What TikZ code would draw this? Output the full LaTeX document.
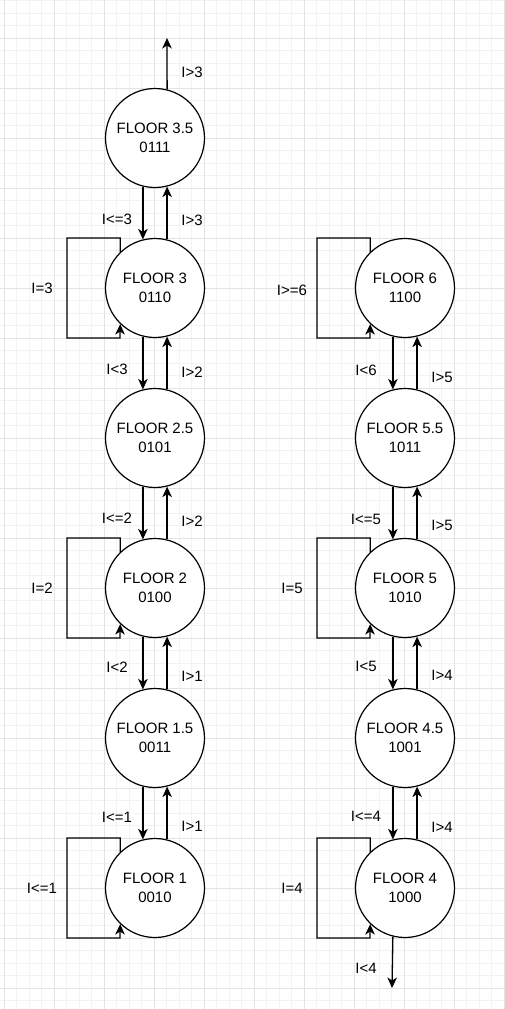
\documentclass[tikz,border=0pt]{standalone}
\usepackage{fontspec}
\setmainfont{Liberation Sans}
\usetikzlibrary{arrows.meta,calc}
\begin{document}
\begin{tikzpicture}[x=1pt,y=-1pt,
  minorgrid/.style={draw=black!5,line width=0.8pt},
  majorgrid/.style={draw=black!11,line width=0.8pt},
  floor/.style={circle,draw=black,line width=1.2pt,fill=white,minimum size=99pt,inner sep=0pt,align=center,font=\fontsize{15}{18.75}\selectfont},
  lbl/.style={inner sep=0pt,font=\fontsize{15}{18}\selectfont},
  arr/.style={draw=black,line width=1.3pt,-{Stealth[length=10.5pt,width=9.5pt,inset=3pt]}},
  loopline/.style={draw=black,line width=1.3pt,-{Stealth[length=10.5pt,width=9.5pt,inset=3pt]}}
]
\useasboundingbox (0,0) rectangle (505,1009);
\fill[white] (0,0) rectangle (505,1009);
% grid
\foreach \k in {0,...,40} { \draw[minorgrid] ({4.3+12.5*\k},0) -- ({4.3+12.5*\k},1009); }
\foreach \k in {0,...,80} { \draw[minorgrid] (0,{0.8+12.5*\k}) -- (505,{0.8+12.5*\k}); }
\foreach \k in {0,...,10} { \draw[majorgrid] ({4.3+50*\k},0) -- ({4.3+50*\k},1009); }
\foreach \k in {0,...,19} { \draw[majorgrid] (0,{38.3+50*\k}) -- (505,{38.3+50*\k}); }

% floors
\node[floor] (f35) at (155,138) {FLOOR 3.5\\0111};
\node[floor] (f3)  at (155,288) {FLOOR 3\\0110};
\node[floor] (f25) at (155,438) {FLOOR 2.5\\0101};
\node[floor] (f2)  at (155,588) {FLOOR 2\\0100};
\node[floor] (f15) at (155,738) {FLOOR 1.5\\0011};
\node[floor] (f1)  at (155,888) {FLOOR 1\\0010};
\node[floor] (f6)  at (405,288) {FLOOR 6\\1100};
\node[floor] (f55) at (405,438) {FLOOR 5.5\\1011};
\node[floor] (f5)  at (405,588) {FLOOR 5\\1010};
\node[floor] (f45) at (405,738) {FLOOR 4.5\\1001};
\node[floor] (f4)  at (405,888) {FLOOR 4\\1000};

% top and bottom free ends
\coordinate (top) at (167,38);
\coordinate (bot) at (392,988);
\draw[arr] (f35.76) -- (top);
\draw[arr] (f4.-104) -- (bot);

% vertical pairs
\foreach \u/\l in {f35/f3,f3/f25,f25/f2,f2/f15,f15/f1,f6/f55,f55/f5,f5/f45,f45/f4} {
  \draw[arr] (\u.-104) -- (\l.104);
  \draw[arr] (\l.76) -- (\u.-76);
}

% self loops
\foreach \n in {f3,f2,f1,f6,f5,f4} {
  \draw[loopline] (\n.134) |- ($(\n.center)+(-88,-50)$) |- ($(\n.center)+(-35,50)$) -- (\n.226);
}

% labels
\node[lbl] (l1) at (192,72) {I>3};
\node[lbl] (l2) at (117,219) {I<=3};
\node[lbl] (l3) at (192,220) {I>3};
\node[lbl] (l4) at (117,369) {I<3};
\node[lbl] (l5) at (192,372) {I>2};
\node[lbl] (l6) at (117,518) {I<=2};
\node[lbl] (l7) at (192,521) {I>2};
\node[lbl] (l8) at (117,667) {I<2};
\node[lbl] (l9) at (192,676) {I>1};
\node[lbl] (l10) at (117,817) {I<=1};
\node[lbl] (l11) at (192,826) {I>1};
\node[lbl] (r1) at (366,370) {I<6};
\node[lbl] (r2) at (442,377) {I>5};
\node[lbl] (r3) at (366,519) {I<=5};
\node[lbl] (r4) at (442,525) {I>5};
\node[lbl] (r5) at (366,666) {I<5};
\node[lbl] (r6) at (442,675) {I>4};
\node[lbl] (r7) at (366,816) {I<=4};
\node[lbl] (r8) at (442,827) {I>4};
\node[lbl] (r9) at (366,968) {I<4};
\node[lbl] (s1) at (42,288) {I=3};
\node[lbl] (s2) at (292,290) {I>=6};
\node[lbl] (s3) at (42,588) {I=2};
\node[lbl] (s4) at (292,588) {I=5};
\node[lbl] (s5) at (42,888) {I<=1};
\node[lbl] (s6) at (292,888) {I=4};
\end{tikzpicture}
\end{document}
